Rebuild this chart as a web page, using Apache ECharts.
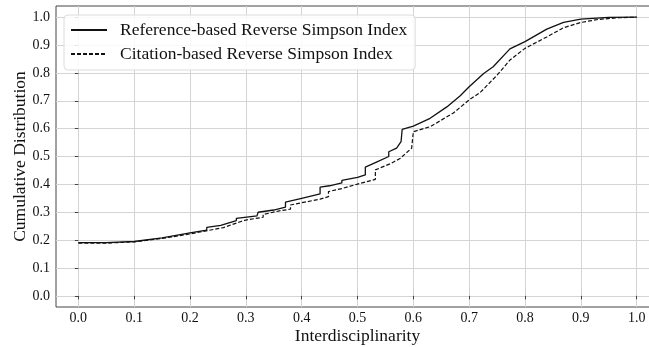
<!DOCTYPE html>
<html>
<head>
<meta charset="utf-8">
<script src="https://cdn.jsdelivr.net/npm/echarts@6/dist/echarts.min.js"></script>
<style>
  html, body { margin: 0; padding: 0; background: #fff; overflow: hidden; }
  #chart { width: 649px; height: 347px; }
</style>
</head>
<body>
<div id="chart"></div>
<script>
// values
const refX = [0.00, 0.05, 0.10, 0.15, 0.20, 0.23, 0.23, 0.255, 0.255, 0.283, 0.283, 0.32, 0.322, 0.35, 0.371, 0.371,
  0.40, 0.433, 0.433, 0.45, 0.472, 0.472, 0.50, 0.514, 0.514, 0.535, 0.556, 0.556, 0.57, 0.578, 0.58,
  0.60, 0.63, 0.66, 0.684, 0.70, 0.726, 0.743, 0.773, 0.80, 0.839, 0.869, 0.90, 0.95, 1.00];
const refY = [0.191, 0.191, 0.195, 0.208, 0.226, 0.236, 0.246, 0.253, 0.260, 0.270, 0.278, 0.287, 0.300, 0.308, 0.318, 0.336,
  0.350, 0.366, 0.390, 0.395, 0.405, 0.414, 0.425, 0.434, 0.462, 0.481, 0.500, 0.517, 0.530, 0.553, 0.597,
  0.609, 0.637, 0.678, 0.718, 0.750, 0.798, 0.822, 0.886, 0.912, 0.957, 0.981, 0.993, 0.999, 1.000];

const citeX = [0.00, 0.05, 0.10, 0.15, 0.20, 0.26, 0.26, 0.29, 0.30, 0.331, 0.331, 0.36, 0.38, 0.38, 0.40, 0.433,
  0.448, 0.448, 0.472, 0.50, 0.532, 0.532, 0.56, 0.577, 0.597, 0.600, 0.63, 0.671, 0.70, 0.72, 0.75,
  0.773, 0.80, 0.839, 0.869, 0.90, 0.932, 0.968, 1.00];
const citeY = [0.189, 0.189, 0.194, 0.206, 0.222, 0.245, 0.250, 0.266, 0.272, 0.282, 0.292, 0.305, 0.311, 0.326, 0.334, 0.347,
  0.356, 0.374, 0.385, 0.401, 0.418, 0.452, 0.475, 0.494, 0.530, 0.589, 0.607, 0.655, 0.703, 0.730, 0.792,
  0.846, 0.888, 0.929, 0.962, 0.981, 0.992, 0.998, 1.000];

const tickValues = [0.0, 0.1, 0.2, 0.3, 0.4, 0.5, 0.6, 0.7, 0.8, 0.9, 1.0];

const seriesNames = ['Reference-based Reverse Simpson Index', 'Citation-based Reverse Simpson Index'];

const FONT = "'Liberation Serif', 'DejaVu Serif', serif";

function pairs(xs, ys) {
  return xs.map((x, i) => [x, ys[i]]);
}

const chart = echarts.init(document.getElementById('chart'), null, { renderer: 'canvas' });

const axisCommon = {
  type: 'value',
  min: -0.04,
  max: 1.04,
  axisLine: { show: false },
  axisTick: { show: true, inside: false, length: 3.5, customValues: tickValues, lineStyle: { color: '#444' } },
  axisLabel: {
    customValues: tickValues,
    fontFamily: FONT,
    fontSize: 14,
    color: '#111',
    formatter: (v) => v.toFixed(1),
  },
  splitLine: { show: true, lineStyle: { color: '#d4d4d4', width: 1 } },
  nameLocation: 'middle',
  nameMoveOverlap: false,
  nameTextStyle: { fontFamily: FONT, fontSize: 17.5, color: '#111' },
};

chart.setOption({
  animation: false,
  backgroundColor: '#fff',
  grid: {
    left: 56, top: 6, width: 603, height: 301,
    outerBoundsMode: 'none',
    containLabel: false,
    show: true, borderColor: '#444', borderWidth: 1, backgroundColor: 'transparent',
  },
  legend: {
    left: 64, top: 15,
    orient: 'vertical',
    padding: [6, 8, 7, 6],
    itemWidth: 36, itemHeight: 12, itemGap: 6,
    borderColor: '#dcdcdc', borderWidth: 1, borderRadius: 4,
    backgroundColor: 'rgba(255,255,255,0.85)',
    itemStyle: { opacity: 0 },
    textStyle: { fontFamily: FONT, fontSize: 17.5, color: '#111', padding: [0, 0, 0, 8] },
    data: seriesNames,
  },
  xAxis: Object.assign({}, axisCommon, {
    name: 'Interdisciplinarity',
    nameGap: 20,
    axisLabel: Object.assign({}, axisCommon.axisLabel, { margin: 4 }),
  }),
  yAxis: Object.assign({}, axisCommon, {
    name: 'Cumulative Distribution',
    nameGap: 27,
    axisLabel: Object.assign({}, axisCommon.axisLabel, { margin: 6 }),
  }),
  series: [
    {
      name: seriesNames[0],
      type: 'line',
      data: pairs(refX, refY),
      showSymbol: false,
      symbol: 'none',
      lineStyle: { color: '#111', width: 1.3, type: 'solid' },
      itemStyle: { color: '#111' },
      z: 3,
    },
    {
      name: seriesNames[1],
      type: 'line',
      data: pairs(citeX, citeY),
      showSymbol: false,
      symbol: 'none',
      lineStyle: { color: '#111', width: 1.2, type: [4, 2] },
      itemStyle: { color: '#111' },
      z: 3,
    },
  ],
});
</script>
</body>
</html>
